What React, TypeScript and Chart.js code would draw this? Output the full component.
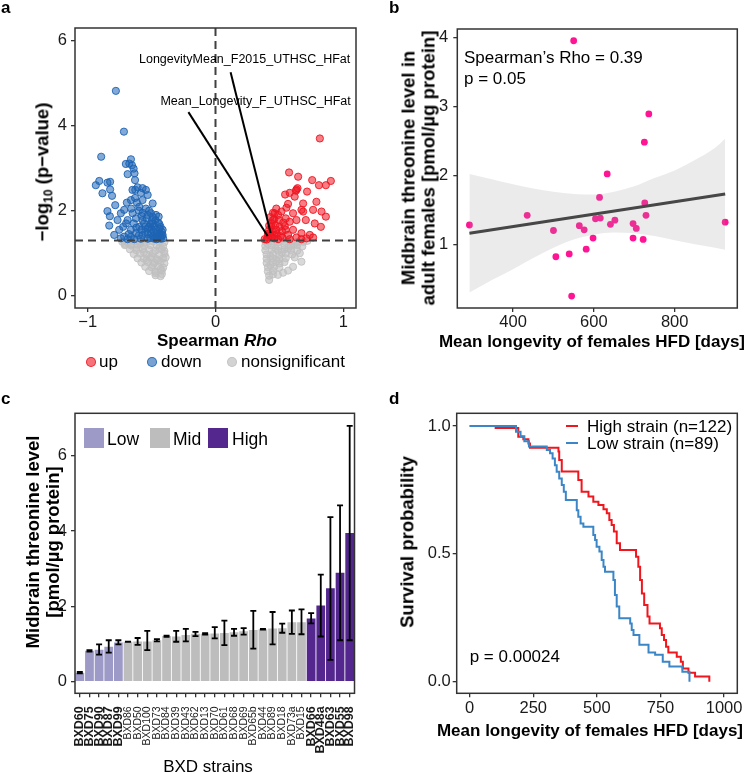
import React, { useEffect, useRef } from "react";
import { Chart, registerables } from "chart.js";

Chart.register(...registerables);

const FONT = "'Liberation Sans', Arial, Helvetica, sans-serif";
const INK = "#1a1a1a";
const FRAME = "#333333";

// ---------------- Panel a : volcano ----------------
const upPoints: [number, number][] = [
  [0.817, 3.7], [0.576, 2.9], [0.647, 2.8], [0.757, 2.72], [0.903, 2.7], [0.864, 2.6], [0.81, 2.6],
  [0.634, 2.5], [0.717, 2.45], [0.581, 2.42], [0.545, 2.38], [0.62, 2.33], [0.686, 2.17], [0.79, 2.21],
  [0.568, 2.16], [0.476, 2.05], [0.516, 1.98], [0.607, 1.94], [0.673, 2.02], [0.764, 2.02], [0.83, 1.98],
  [0.864, 1.86], [0.634, 1.78], [0.707, 1.78], [0.777, 1.7], [0.825, 1.62], [0.581, 1.74], [0.542, 1.64],
  [0.607, 1.55], [0.673, 1.47], [0.738, 1.43], [0.712, 1.35], [0.634, 1.37], [0.568, 1.43], [0.524, 1.37],
  [0.463, 1.94], [0.45, 1.78], [0.437, 1.62], [0.476, 1.55], [0.424, 1.47], [0.463, 1.43], [0.411, 1.37],
  [0.385, 1.33], [0.49, 1.33], [0.581, 1.33], [0.673, 1.33], [0.764, 1.37], [0.497, 1.78], [0.55, 1.55],
  [0.42, 1.55], [0.43, 1.42], [0.44, 1.7], [0.45, 1.5], [0.46, 1.35], [0.47, 1.66], [0.48, 1.45],
  [0.41, 1.45], [0.43, 1.85], [0.45, 1.95], [0.5, 1.62], [0.52, 1.52], [0.44, 1.38], [0.4, 1.32],
  [0.49, 1.9], [0.53, 1.72], [0.55, 1.82], [0.51, 1.4], [0.46, 1.8], [0.42, 1.65], [0.63, 2.47],
  [0.642, 2.53], [0.555, 2.07], [0.686, 1.98],
];
const downPoints: [number, number][] = [
  [-0.78, 4.82], [-0.717, 3.86], [-0.895, 3.27], [-0.91, 2.7], [-0.937, 2.6], [-0.846, 2.66], [-0.825, 2.68],
  [-0.885, 2.41], [-0.825, 2.5], [-0.81, 2.35], [-0.785, 2.13], [-0.846, 1.99], [-0.827, 1.87], [-0.832, 1.65],
  [-0.793, 1.43], [-0.754, 1.55], [-0.767, 1.78], [-0.741, 1.94], [-0.694, 2.19], [-0.715, 2.02], [-0.662, 3.21],
  [-0.675, 3.11], [-0.702, 3.1], [-0.688, 2.86], [-0.654, 3.07], [-0.641, 2.99], [-0.634, 2.88], [-0.63, 2.72],
  [-0.628, 2.49], [-0.65, 2.49], [-0.571, 2.53], [-0.545, 2.49], [-0.584, 2.42], [-0.531, 2.37], [-0.492, 2.17],
  [-0.571, 2.25], [-0.662, 2.25], [-0.615, 2.19], [-0.597, 2.09], [-0.545, 2.05], [-0.505, 1.94], [-0.466, 1.9],
  [-0.445, 1.86], [-0.649, 1.94], [-0.688, 1.78], [-0.623, 1.82], [-0.571, 1.78], [-0.492, 1.7], [-0.44, 1.69],
  [-0.723, 1.62], [-0.662, 1.55], [-0.597, 1.62], [-0.531, 1.58], [-0.466, 1.55], [-0.414, 1.55], [-0.715, 1.39],
  [-0.662, 1.39], [-0.623, 1.47], [-0.571, 1.43], [-0.505, 1.47], [-0.44, 1.47], [-0.414, 1.43], [-0.741, 1.35],
  [-0.688, 1.33], [-0.636, 1.33], [-0.584, 1.34], [-0.531, 1.34], [-0.479, 1.34], [-0.427, 1.34],
  [-0.55, 1.5], [-0.52, 1.62], [-0.5, 1.56], [-0.48, 1.63], [-0.46, 1.45], [-0.44, 1.58], [-0.43, 1.38],
  [-0.45, 1.72], [-0.47, 1.78], [-0.49, 1.4], [-0.51, 1.36], [-0.53, 1.45], [-0.56, 1.7], [-0.58, 1.55],
  [-0.6, 1.42], [-0.62, 1.6], [-0.54, 1.82], [-0.57, 1.95], [-0.6, 2.0], [-0.52, 2.0], [-0.5, 1.75],
  [-0.42, 1.5], [-0.41, 1.35], [-0.46, 1.33], [-0.64, 1.7], [-0.68, 1.45], [-0.7, 1.7], [-0.66, 2.05],
  [-0.63, 2.3], [-0.61, 2.55], [-0.48, 1.5], [-0.45, 1.4], [-0.43, 1.62], [-0.51, 1.68], [-0.55, 1.62],
  [-0.47, 1.38], [-0.42, 1.42], [-0.53, 1.9], [-0.49, 1.85], [-0.58, 1.88],
];
const nsPoints: [number, number][] = [
  [-0.73, 1.27], [-0.69, 1.26], [-0.64, 1.28], [-0.59, 1.27], [-0.54, 1.26], [-0.49, 1.28], [-0.44, 1.27], [-0.4, 1.26],
  [-0.71, 1.19], [-0.66, 1.18], [-0.61, 1.2], [-0.56, 1.17], [-0.51, 1.19], [-0.46, 1.18], [-0.41, 1.16],
  [-0.67, 1.09], [-0.62, 1.07], [-0.57, 1.1], [-0.52, 1.08], [-0.47, 1.06], [-0.42, 1.09],
  [-0.64, 0.98], [-0.59, 0.99], [-0.54, 0.97], [-0.49, 1.0], [-0.44, 0.96], [-0.4, 0.99],
  [-0.61, 0.88], [-0.56, 0.87], [-0.51, 0.89], [-0.46, 0.86], [-0.41, 0.88],
  [-0.58, 0.78], [-0.53, 0.79], [-0.48, 0.77], [-0.43, 0.79], [-0.4, 0.76],
  [-0.55, 0.68], [-0.5, 0.67], [-0.45, 0.69], [-0.41, 0.66],
  [-0.52, 0.58], [-0.47, 0.57], [-0.42, 0.59], [-0.47, 0.48], [-0.43, 0.46],
  [-0.71, 1.22], [-0.62, 1.13], [-0.56, 1.02], [-0.5, 0.92], [-0.45, 0.83], [-0.43, 0.62], [-0.49, 0.72],
  [-0.54, 0.84], [-0.66, 1.21], [-0.44, 1.12], [-0.47, 0.53], [-0.42, 0.51], [-0.39, 0.9], [-0.4, 1.05], [-0.59, 1.22],
  [0.39, 1.27], [0.44, 1.28], [0.49, 1.26], [0.54, 1.27], [0.59, 1.28], [0.64, 1.26], [0.69, 1.27], [0.72, 1.29],
  [0.39, 1.17], [0.44, 1.18], [0.49, 1.16], [0.54, 1.18], [0.59, 1.17], [0.64, 1.19], [0.68, 1.16],
  [0.39, 1.07], [0.44, 1.08], [0.49, 1.06], [0.54, 1.09], [0.59, 1.07], [0.64, 1.06],
  [0.4, 0.97], [0.45, 0.98], [0.5, 0.96], [0.55, 0.99], [0.6, 0.97],
  [0.4, 0.87], [0.45, 0.88], [0.5, 0.86], [0.55, 0.88],
  [0.4, 0.77], [0.45, 0.78], [0.5, 0.76], [0.54, 0.79],
  [0.41, 0.67], [0.46, 0.68], [0.5, 0.66], [0.41, 0.57], [0.45, 0.58],
  [0.42, 0.47], [0.45, 0.5], [0.42, 0.37],
  [0.607, 0.68], [0.568, 0.59], [0.529, 0.54], [0.489, 0.49], [0.673, 0.8], [0.66, 1.0], [0.62, 0.9],
  [0.41, 1.22], [0.47, 1.12], [0.52, 1.02], [0.57, 1.12], [0.62, 1.22], [0.43, 0.93], [0.48, 0.82], [0.43, 0.72],
];
const sigThreshold = 1.3;
const hitLabels = ["LongevityMean_F2015_UTHSC_HFat", "Mean_Longevity_F_UTHSC_HFat"];
const hitRho = [0.432, 0.408];
const hitLogP = [1.475, 1.405];
const hitLabelRho = [0.228, 0.314];
const hitLabelLogP = [5.56, 4.58];
const hitLineStartRho = [0.118, -0.212];
const hitLineStartLogP = [5.26, 4.32];
const volcanoXTicks = [-1, 0, 1];
const volcanoYTicks = [0, 2, 4, 6];

// ---------------- Panel b : correlation ----------------
const longevityDays = [550, 736, 725, 633, 614, 726, 435, 729, 604, 616, 652, 925, 292, 564, 641, 697, 576, 705, 500, 598, 697, 722, 581, 539, 506, 545];
const threonineLevel = [3.95, 2.89, 2.48, 2.02, 1.68, 1.6, 1.42, 1.42, 1.37, 1.38, 1.35, 1.32, 1.28, 1.27, 1.29, 1.3, 1.21, 1.23, 1.2, 1.09, 1.09, 1.07, 0.93, 0.86, 0.82, 0.25];
const fitDays = [292, 925];
const fitLevel = [1.16, 1.73];
const bandDays = [292, 350, 400, 450, 500, 550, 600, 650, 700, 750, 800, 850, 900, 925];
const bandUpper = [2.02, 1.94, 1.87, 1.81, 1.76, 1.73, 1.72, 1.76, 1.84, 1.96, 2.07, 2.22, 2.4, 2.53];
const bandLower = [0.3, 0.49, 0.64, 0.8, 0.95, 1.07, 1.14, 1.17, 1.16, 1.12, 1.06, 1.0, 0.95, 0.92];
const corrXTicks = [400, 600, 800];
const corrYTicks = [1, 2, 3, 4];

// ---------------- Panel c : strain bars ----------------
const strains = ["BXD60", "BXD75", "BXD90", "BXD87", "BXD99", "BXD86", "BXD50", "BXD100", "BXD73", "BXD84", "BXD39", "BXD43", "BXD62", "BXD13", "BXD70", "BXD61", "BXD68", "BXD69", "BXD65b", "BXD44", "BXD89", "BXD18", "BXD73a", "BXD15", "BXD66", "BXD48a", "BXD63", "BXD55", "BXD98"];
const strainGroup = ["Low", "Low", "Low", "Low", "Low", "Mid", "Mid", "Mid", "Mid", "Mid", "Mid", "Mid", "Mid", "Mid", "Mid", "Mid", "Mid", "Mid", "Mid", "Mid", "Mid", "Mid", "Mid", "Mid", "High", "High", "High", "High", "High"];
const strainMean = [0.24, 0.82, 0.85, 0.93, 1.04, 1.06, 1.07, 1.07, 1.1, 1.21, 1.2, 1.24, 1.27, 1.27, 1.28, 1.29, 1.31, 1.34, 1.37, 1.39, 1.41, 1.42, 1.58, 1.58, 1.68, 2.02, 2.48, 2.89, 3.95];
const strainErrLow = [0.22, 0.8, 0.72, 0.77, 0.99, 1.06, 0.98, 0.84, 1.07, 1.19, 1.06, 1.07, 1.21, 1.25, 1.15, 0.97, 1.22, 1.25, 0.88, 1.38, 0.99, 1.3, 1.27, 1.26, 1.55, 1.2, 0.58, 1.1, 1.1];
const strainErrHigh = [0.26, 0.84, 0.99, 1.1, 1.1, 1.06, 1.16, 1.35, 1.13, 1.22, 1.35, 1.4, 1.32, 1.29, 1.45, 1.62, 1.4, 1.42, 1.88, 1.4, 1.85, 1.54, 1.89, 1.92, 1.82, 2.84, 4.37, 4.68, 6.79];
const groupNames = ["Low", "Mid", "High"];
const groupColors: Record<string, string> = { Low: "#9e9ac8", Mid: "#bdbdbd", High: "#54278f" };
const barYTicks = [0, 2, 4, 6];

// ---------------- Panel d : survival ----------------
const highDays = [0, 102, 191, 211, 231, 237, 349, 352, 362, 427, 440, 467, 486, 506, 526, 539, 549, 558, 567, 578, 591, 654, 663, 670, 677, 686, 699, 707, 748, 755, 764, 772, 781, 814, 830, 838, 860, 886, 942];
const highSurv = [1.0, 0.992, 0.958, 0.948, 0.932, 0.915, 0.9, 0.867, 0.822, 0.789, 0.743, 0.724, 0.704, 0.691, 0.674, 0.659, 0.632, 0.613, 0.587, 0.541, 0.515, 0.489, 0.45, 0.398, 0.345, 0.3, 0.255, 0.228, 0.209, 0.183, 0.163, 0.137, 0.114, 0.098, 0.078, 0.052, 0.035, 0.02, 0.0];
const lowDays = [0, 182, 200, 215, 233, 303, 316, 326, 335, 342, 352, 362, 370, 378, 421, 427, 436, 447, 486, 493, 499, 510, 519, 526, 532, 565, 571, 578, 588, 631, 637, 644, 667, 703, 729, 759, 785, 836, 864];
const lowSurv = [1.0, 0.978, 0.96, 0.94, 0.92, 0.906, 0.893, 0.873, 0.847, 0.821, 0.795, 0.769, 0.743, 0.711, 0.671, 0.645, 0.619, 0.606, 0.574, 0.554, 0.528, 0.509, 0.476, 0.45, 0.43, 0.398, 0.339, 0.294, 0.248, 0.228, 0.202, 0.183, 0.144, 0.114, 0.105, 0.078, 0.059, 0.039, 0.0];
const survXTicks = [0, 250, 500, 750, 1000];
const survYTicks = [0, 0.5, 1];

// ---------------- helpers ----------------
const signed = (v: number) => (v < 0 ? "\u2212" + Math.abs(v) : String(v));

function axis(min: number, max: number, tickValues: number[], w: number | null, h: number | null, pad: number, fmt: (v: number) => string) {
  return {
    type: "linear",
    min,
    max,
    afterBuildTicks: (s: any) => {
      s.ticks = tickValues.map((v) => ({ value: v }));
    },
    afterFit: (s: any) => {
      if (w !== null) s.width = w;
      if (h !== null) s.height = h;
    },
    grid: { display: true, drawOnChartArea: false, drawTicks: true, tickLength: 4, color: FRAME, lineWidth: 1.3 },
    border: { display: false },
    ticks: { padding: pad, color: INK, font: { family: FONT, size: 16.5 }, callback: (v: any) => fmt(Number(v)) },
  };
}

const framePlugin = {
  id: "frame",
  afterDraw(chart: any) {
    const { ctx, chartArea: a } = chart;
    ctx.save();
    ctx.strokeStyle = FRAME;
    ctx.lineWidth = 1.5;
    ctx.strokeRect(a.left, a.top, a.right - a.left, a.bottom - a.top);
    ctx.restore();
  },
};

const baseOptions = (padTop: number, padRight: number) => ({
  responsive: false,
  animation: false,
  events: [],
  layout: { padding: { top: padTop, right: padRight, left: 0, bottom: 0 } },
  plugins: { legend: { display: false }, tooltip: { enabled: false } },
});

const pairs = (arr: [number, number][]) => arr.map(([x, y]) => ({ x, y }));
const zipXY = (xs: number[], ys: number[]) => xs.map((x, i) => ({ x, y: ys[i] }));

// ---------------- chart configs ----------------
function volcanoConfig(): any {
  const extras = {
    id: "volcanoExtras",
    afterDatasetsDraw(chart: any) {
      const { ctx, chartArea: a } = chart;
      const xs = chart.scales.x;
      const ys = chart.scales.y;
      ctx.save();
      ctx.strokeStyle = "#404040";
      ctx.lineWidth = 2;
      ctx.setLineDash([8, 5]);
      const yT = ys.getPixelForValue(sigThreshold);
      ctx.beginPath();
      ctx.moveTo(a.left, yT);
      ctx.lineTo(a.right, yT);
      ctx.stroke();
      const x0 = xs.getPixelForValue(0);
      ctx.beginPath();
      ctx.moveTo(x0, a.top);
      ctx.lineTo(x0, a.bottom);
      ctx.stroke();
      ctx.setLineDash([]);
      ctx.strokeStyle = "#000";
      ctx.lineWidth = 2;
      for (let i = 0; i < hitLabels.length; i++) {
        ctx.beginPath();
        ctx.moveTo(xs.getPixelForValue(hitLineStartRho[i]), ys.getPixelForValue(hitLineStartLogP[i]));
        ctx.lineTo(xs.getPixelForValue(hitRho[i]), ys.getPixelForValue(hitLogP[i]));
        ctx.stroke();
      }
      ctx.fillStyle = "#000";
      ctx.font = `12.5px ${FONT}`;
      ctx.textAlign = "center";
      ctx.textBaseline = "middle";
      for (let i = 0; i < hitLabels.length; i++) {
        ctx.fillText(hitLabels[i], xs.getPixelForValue(hitLabelRho[i]), ys.getPixelForValue(hitLabelLogP[i]));
      }
      ctx.restore();
    },
  };
  return {
    type: "scatter",
    data: {
      datasets: [
        { label: "up", data: pairs(upPoints), backgroundColor: "rgba(238,22,34,0.55)", borderColor: "rgba(238,22,34,0.9)", borderWidth: 1, pointRadius: 3.6, order: 1 },
        { label: "down", data: pairs(downPoints), backgroundColor: "rgba(30,100,180,0.55)", borderColor: "rgba(30,100,180,0.9)", borderWidth: 1, pointRadius: 3.6, order: 2 },
        { label: "nonsignificant", data: pairs(nsPoints), backgroundColor: "rgba(192,192,192,0.6)", borderColor: "rgba(192,192,192,0.85)", borderWidth: 1, pointRadius: 3.6, order: 3 },
      ],
    },
    options: {
      ...baseOptions(28, 18),
      scales: {
        x: axis(-1.1, 1.1, volcanoXTicks, null, 72, 1, signed),
        y: axis(-0.29, 6.3, volcanoYTicks, 75, null, 4, signed),
      },
    },
    plugins: [extras, framePlugin],
  };
}

function corrConfig(): any {
  return {
    type: "scatter",
    data: {
      datasets: [
        { type: "scatter", data: zipXY(longevityDays, threonineLevel), backgroundColor: "#ff1493", borderWidth: 0, pointRadius: 3.4, order: 4 },
        { type: "line", data: zipXY(bandDays, bandUpper), borderColor: "rgba(0,0,0,0)", pointRadius: 0, fill: false, cubicInterpolationMode: "monotone", order: 3 },
        { type: "line", data: zipXY(bandDays, bandLower), borderColor: "rgba(0,0,0,0)", pointRadius: 0, fill: "-1", backgroundColor: "rgba(153,153,153,0.2)", cubicInterpolationMode: "monotone", order: 2 },
        { type: "line", data: zipXY(fitDays, fitLevel), borderColor: "#474747", borderWidth: 3, pointRadius: 0, fill: false, order: 1 },
      ],
    },
    options: {
      ...baseOptions(29, 10.7),
      scales: {
        x: axis(262, 955, corrXTicks, null, 72, 1, (v) => String(v)),
        y: axis(0.077, 4.12, corrYTicks, 83.3, null, 5, (v) => String(v)),
      },
    },
    plugins: [framePlugin],
  };
}

function barConfig(): any {
  const errorBars = {
    id: "errorBars",
    afterDatasetsDraw(chart: any) {
      const { ctx } = chart;
      const xs = chart.scales.x;
      const ys = chart.scales.y;
      ctx.save();
      ctx.strokeStyle = "#000";
      ctx.lineWidth = 1.8;
      for (let i = 0; i < strains.length; i++) {
        const px = xs.getPixelForValue(i);
        const lo = ys.getPixelForValue(strainErrLow[i]);
        const hi = ys.getPixelForValue(strainErrHigh[i]);
        ctx.beginPath();
        ctx.moveTo(px, lo);
        ctx.lineTo(px, hi);
        ctx.moveTo(px - 3, lo);
        ctx.lineTo(px + 3, lo);
        ctx.moveTo(px - 3, hi);
        ctx.lineTo(px + 3, hi);
        ctx.stroke();
      }
      ctx.restore();
    },
  };
  return {
    type: "bar",
    data: {
      labels: strains,
      datasets: [
        {
          data: strainMean,
          backgroundColor: strainGroup.map((g) => groupColors[g]),
          borderWidth: 0,
          barPercentage: 0.91,
          categoryPercentage: 1,
        },
      ],
    },
    options: {
      ...baseOptions(33.3, 18),
      scales: {
        x: {
          type: "category",
          offset: true,
          afterFit: (s: any) => {
            s.height = 79.7;
          },
          grid: { display: true, offset: false, drawOnChartArea: false, drawTicks: true, tickLength: 4, color: FRAME, lineWidth: 1.3 },
          border: { display: false },
          ticks: {
            autoSkip: false,
            minRotation: 90,
            maxRotation: 90,
            padding: 9,
            color: INK,
            font: (ctx: any) =>
              strainGroup[ctx.index] === "Mid"
                ? { family: FONT, size: 10.5, weight: "normal" }
                : { family: FONT, size: 12.5, weight: "bold" },
          },
        },
        y: axis(-0.308, 7.125, barYTicks, 75, null, 4, (v) => String(v)),
      },
    },
    plugins: [errorBars, framePlugin],
  };
}

function survConfig(): any {
  return {
    type: "scatter",
    data: {
      datasets: [
        { label: "Low strain (n=89)", data: zipXY(lowDays, lowSurv), showLine: true, stepped: true, borderColor: "#3b86c6", borderWidth: 2, pointRadius: 0, fill: false, order: 1 },
        { label: "High strain (n=122)", data: zipXY(highDays, highSurv), showLine: true, stepped: true, borderColor: "#f0161e", borderWidth: 2, pointRadius: 0, fill: false, order: 2 },
      ],
    },
    options: {
      ...baseOptions(33.3, 10.7),
      scales: {
        x: axis(-51, 1052, survXTicks, null, 79.7, 1, (v) => String(v)),
        y: axis(-0.0454, 1.0497, survYTicks, 82.7, null, 2, (v) => v.toFixed(1)),
      },
    },
    plugins: [framePlugin],
  };
}

// ---------------- components ----------------
function ChartBox({ left, top, width, height, make }: { left: number; top: number; width: number; height: number; make: () => any }) {
  const ref = useRef<HTMLCanvasElement>(null);
  useEffect(() => {
    const chart = new Chart(ref.current as HTMLCanvasElement, make());
    return () => chart.destroy();
  }, []);
  return <canvas ref={ref} width={width} height={height} style={{ position: "absolute", left, top, width, height }} />;
}

type TxtProps = {
  x: number;
  y: number;
  size?: number;
  bold?: boolean;
  anchor?: "left" | "center" | "right";
  rotate?: boolean;
  lh?: number;
  children: React.ReactNode;
};

function Txt({ x, y, size = 17, bold = false, anchor = "center", rotate = false, lh, children }: TxtProps) {
  const tx = anchor === "left" ? "0" : anchor === "right" ? "-100%" : "-50%";
  return (
    <div
      style={{
        position: "absolute",
        left: x,
        top: y,
        transform: rotate ? "translate(-50%,-50%) rotate(-90deg)" : `translate(${tx},-50%)`,
        fontFamily: FONT,
        fontSize: size,
        fontWeight: bold ? 700 : 400,
        whiteSpace: "nowrap",
        lineHeight: lh ? `${lh}px` : 1.15,
        color: "#000",
        textAlign: "center",
      }}
    >
      {children}
    </div>
  );
}

function Dot({ x, y, fill, stroke }: { x: number; y: number; fill: string; stroke: string }) {
  return (
    <div
      style={{
        position: "absolute",
        left: x - 5,
        top: y - 5,
        width: 8,
        height: 8,
        borderRadius: "50%",
        background: fill,
        border: `1px solid ${stroke}`,
      }}
    />
  );
}

export default function App() {
  return (
    <div style={{ position: "absolute", left: 0, top: 0, width: 748, height: 773, background: "#fff", overflow: "hidden" }}>
      <ChartBox left={0} top={0} width={374} height={380} make={volcanoConfig} />
      <ChartBox left={374} top={0} width={374} height={380} make={corrConfig} />
      <ChartBox left={0} top={380} width={374} height={393} make={barConfig} />
      <ChartBox left={374} top={380} width={374} height={393} make={survConfig} />

      {/* panel letters */}
      <Txt x={1} y={8} size={17} bold anchor="left">a</Txt>
      <Txt x={389} y={8} size={17} bold anchor="left">b</Txt>
      <Txt x={1} y={399} size={17} bold anchor="left">c</Txt>
      <Txt x={389} y={399} size={17} bold anchor="left">d</Txt>

      {/* panel a */}
      <Txt x={42} y={172} size={18.5} bold rotate>
        {"\u2212log"}
        <span style={{ fontSize: "0.65em", position: "relative", top: "0.35em" }}>10</span>
        {" (p\u2212value)"}
      </Txt>
      <Txt x={217} y={341} size={17} bold>
        Spearman <i>Rho</i>
      </Txt>
      <Dot x={91} y={362} fill="rgba(238,22,34,0.6)" stroke="rgba(238,22,34,0.9)" />
      <Txt x={99} y={362} anchor="left">up</Txt>
      <Dot x={152} y={362} fill="rgba(30,100,180,0.6)" stroke="rgba(30,100,180,0.9)" />
      <Txt x={161} y={362} anchor="left">down</Txt>
      <Dot x={232} y={362} fill="rgba(192,192,192,0.7)" stroke="rgba(192,192,192,0.9)" />
      <Txt x={241} y={362} anchor="left">nonsignificant</Txt>

      {/* panel b */}
      <Txt x={417.5} y={168} size={18.5} bold rotate lh={19.5}>
        Midbrain threonine level in
        <br />
        adult females [pmol/µg protein]
      </Txt>
      <Txt x={592} y={342} size={17} bold>Mean longevity of females HFD [days]</Txt>
      <Txt x={464} y={58} anchor="left">Spearman’s Rho = 0.39</Txt>
      <Txt x={464} y={79} anchor="left">p = 0.05</Txt>

      {/* panel c */}
      <Txt x={43} y={542} size={18.5} bold rotate lh={20}>
        Midbrain threonine level
        <br />
        [pmol/µg protein]
      </Txt>
      <Txt x={208} y={767} size={17}>BXD strains</Txt>
      {groupNames.map((g, i) => (
        <div key={g} style={{ position: "absolute", left: [84, 150, 208.3][i], top: 428.3, width: 20, height: 20, background: groupColors[g] }} />
      ))}
      <Txt x={107} y={438.5} size={17.5} anchor="left">Low</Txt>
      <Txt x={173} y={438.5} size={17.5} anchor="left">Mid</Txt>
      <Txt x={232} y={438.5} size={17.5} anchor="left">High</Txt>

      {/* panel d */}
      <Txt x={407} y={542} size={18.5} bold rotate>Survival probability</Txt>
      <Txt x={590} y={731} size={17} bold>Mean longevity of females HFD [days]</Txt>
      <div style={{ position: "absolute", left: 566, top: 425, width: 12, height: 2, background: "#f0161e" }} />
      <Txt x={587} y={426.5} anchor="left">High strain (n=122)</Txt>
      <div style={{ position: "absolute", left: 566, top: 442.3, width: 12, height: 2, background: "#3b86c6" }} />
      <Txt x={587} y={443.5} anchor="left">Low strain (n=89)</Txt>
      <Txt x={469.7} y={657} anchor="left">p = 0.00024</Txt>
    </div>
  );
}
